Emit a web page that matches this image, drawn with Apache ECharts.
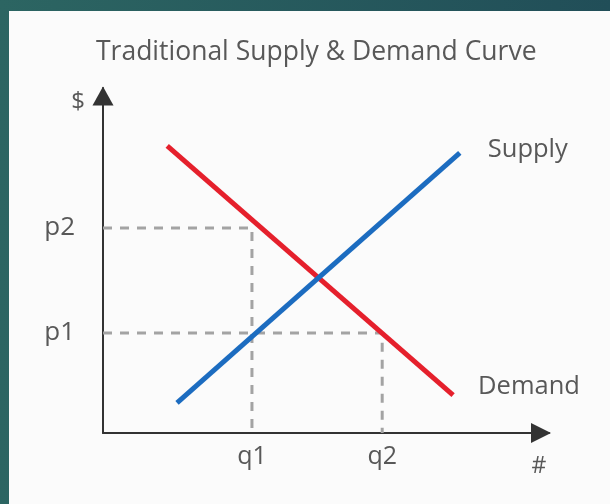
<!DOCTYPE html>
<html>
<head>
<meta charset="utf-8">
<script src="https://cdn.jsdelivr.net/npm/echarts@6/dist/echarts.min.js"></script>
<style>html,body{margin:0;padding:0;}#main{width:610px;height:504px;}</style>
</head>
<body>
<div id="main"></div>
<script>
const chartTitle = 'Traditional Supply & Demand Curve';
const quantityTicks = [3.34, 6.26];
const quantityLabels = ['q1', 'q2'];
const priceTicks = [2.9, 5.94];
const priceLabels = ['p1', 'p2'];
const supplyPoints = [[1.66, 0.87], [8.0, 8.12]];
const demandPoints = [[1.44, 8.32], [7.85, 1.1]];
const guideP2 = [[0, 5.94], [3.34, 5.94], [3.34, 0]];
const guideP1 = [[0, 2.9], [6.26, 2.9], [6.26, 0]];

const font = '"Open Sans", "Noto Sans", sans-serif';
const textGray = '#585858';
const chart = echarts.init(document.getElementById('main'));
const dashStyle = { color: '#a3a3a3', width: 3, type: [9, 8] };
chart.setOption({
  animation: false,
  backgroundColor: {
    type: 'linear', x: 0, y: 0, x2: 1, y2: 0,
    colorStops: [{ offset: 0, color: '#2c6562' }, { offset: 1, color: '#214e58' }]
  },
  graphic: [{
    type: 'rect', z: -10, silent: true,
    shape: { x: 9, y: 11, width: 601, height: 493 },
    style: { fill: '#fbfbfb' }
  }],
  title: {
    text: chartTitle, left: 91, top: 34,
    textStyle: { fontFamily: font, fontWeight: 'normal', fontSize: 26.5, color: textGray }
  },
  grid: { left: 103, right: 61, top: 88, bottom: 71 },
  xAxis: {
    type: 'value', min: 0, max: 10,
    name: '#', nameLocation: 'end', nameGap: -10,
    nameTextStyle: { fontFamily: font, fontSize: 23, color: textGray, align: 'center', verticalAlign: 'top', padding: [22, 0, 0, 0] },
    axisLine: { show: true, lineStyle: { color: '#333', width: 2 }, symbol: ['none', 'triangle'], symbolSize: [20, 20], symbolOffset: [0, -8] },
    axisTick: { show: false },
    splitLine: { show: false },
    axisLabel: {
      customValues: quantityTicks, margin: 11,
      formatter: v => quantityLabels[quantityTicks.indexOf(v)] || '',
      fontFamily: font, fontSize: 25, color: textGray
    }
  },
  yAxis: {
    type: 'value', min: 0, max: 10,
    name: '$', nameLocation: 'end', nameGap: -14,
    nameTextStyle: { fontFamily: font, fontSize: 24, color: textGray, align: 'right', verticalAlign: 'middle', padding: [0, 18, 0, 0] },
    axisLine: { show: true, lineStyle: { color: '#333', width: 2 }, symbol: ['none', 'triangle'], symbolSize: [21, 19], symbolOffset: [0, -8] },
    axisTick: { show: false },
    splitLine: { show: false },
    axisLabel: {
      customValues: priceTicks, margin: 28,
      formatter: v => priceLabels[priceTicks.indexOf(v)] || '',
      fontFamily: font, fontSize: 26, color: textGray
    }
  },
  series: [
    { type: 'line', name: 'guide p2', data: guideP2, symbol: 'none', lineStyle: dashStyle, z: 1, silent: true },
    { type: 'line', name: 'guide p1', data: guideP1, symbol: 'none', lineStyle: dashStyle, z: 1, silent: true },
    {
      type: 'line', name: 'Demand', data: demandPoints, symbol: 'none', z: 3,
      lineStyle: { color: '#e5202c', width: 5 },
      endLabel: { show: true, formatter: '{a}', distance: 25, offset: [0, -8], fontFamily: font, fontSize: 25.5, color: textGray }
    },
    {
      type: 'line', name: 'Supply', data: supplyPoints, symbol: 'none', z: 4,
      lineStyle: { color: '#1c6cc0', width: 5 },
      endLabel: { show: true, formatter: '{a}', distance: 28, offset: [0, -3], fontFamily: font, fontSize: 25.5, color: textGray }
    }
  ]
});
</script>
</body>
</html>
